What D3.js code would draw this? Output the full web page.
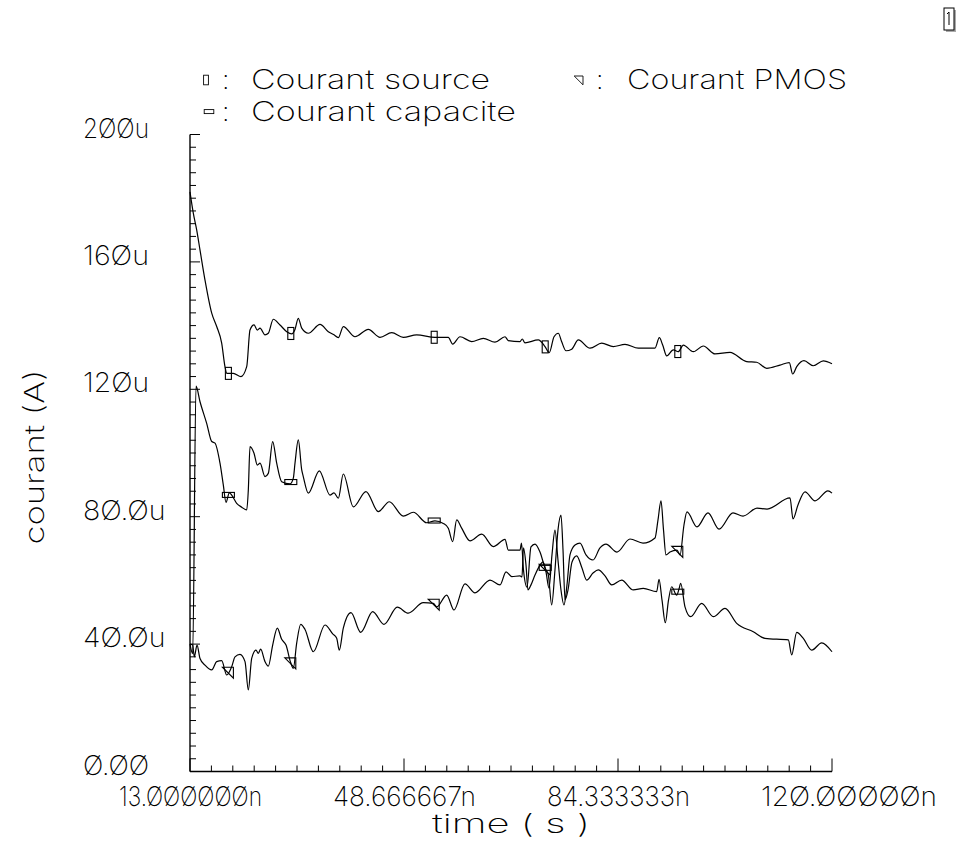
<!DOCTYPE html>
<html>
<head>
<meta charset="utf-8">
<script src="https://cdn.jsdelivr.net/npm/d3@7"></script>
<style>
  html, body { margin: 0; padding: 0; background: #fff; }
  svg { display: block; }
  text { font-family: Inter, Roboto, "DejaVu Sans", sans-serif; font-weight: 200; fill: #000; }
</style>
</head>
<body>
<svg id="chart" width="974" height="841"></svg>
<script>
// ---- Data (time in ns, current in µA) ----
const sourceT = [13.0,13.55,14.12,14.67,15.5,16.62,17.45,18.28,18.83,19.12,20.22,21.5,22.45,23.0,23.67,24.22,24.67,25.5,26.05,26.88,28.0,29.12,29.95,30.5,31.05,31.62,32.72,34.67,36.05,37.0,37.72,38.55,40.5,42.72,44.67,46.62,48.55,50.78,53.83,56.05,56.78,58.0,59.95,61.88,63.83,65.5,66.05,68.0,68.38,68.83,71.05,72.17,72.88,73.67,74.38,74.95,75.67,76.62,77.72,79.67,81.62,83.55,85.5,87.72,90.5,91.22,91.78,92.45,93.55,94.38,95.22,96.88,98.55,100.5,103.0,105.78,107.45,109.12,111.33,112.88,113.45,114.12,115.33,116.88,118.55,120.0];
const sourceV = [182,175.3,170.0,163.7,154.3,143.9,139.7,134.5,127.1,125.0,125.0,124.0,127.1,138.6,140.2,138.6,139.2,137.1,137.6,142.0,140.2,138.1,137.4,138.8,142.3,139.2,137.6,140.4,138.1,137.1,136.2,139.7,136.5,138.8,136.3,137.8,136.3,137.1,136.3,136.3,134.2,136.5,135.0,136.0,134.8,136.5,135.3,135.0,135.8,134.6,135.5,133.4,131.5,136.5,137.6,134.9,132.1,132.6,135.5,132.9,134.5,133.4,134.1,132.9,132.9,136.2,133.9,130.5,132.4,131.8,133.9,131.8,133.6,131.1,131.6,128.7,128.5,126.6,127.6,128.4,124.8,127.1,129.0,127.4,128.9,128.0];

const capT = [13.0,13.45,14.0,14.67,15.78,16.62,17.17,18.0,18.55,19.0,19.55,19.95,20.78,21.62,22.45,22.72,23.0,23.67,24.22,24.67,25.5,26.05,26.78,27.45,28.28,29.67,30.22,30.5,31.05,31.62,31.88,32.72,34.55,36.33,37.0,37.72,38.55,40.22,42.33,44.38,46.22,48.55,50.22,52.45,53.83,55.22,56.05,56.78,57.45,58.28,59.67,61.62,63.55,65.5,66.05,68.0,68.25,68.58,69.17,69.83,70.5,71.33,72.17,72.72,73.28,73.83,74.33,74.83,75.17,75.5,76.0,76.67,77.45,78.33,79.12,80.17,81.05,82.17,83.28,84.95,86.88,88.55,90.78,91.17,91.67,92.22,92.75,93.28,94.12,94.5,94.78,95.5,96.45,98.28,100.22,102.17,104.12,106.88,108.83,112.72,113.28,114.12,115.22,116.62,118.28,120.0];
const capV = [40,37,121,116.1,109.3,103.6,103.1,96.8,90.0,84.5,87.5,86.8,84.2,83.0,82.1,88.4,102.0,99.9,96.2,96.8,92.6,93.6,103.6,96.8,91.0,90.3,92.1,96.8,104.1,94.7,92.6,87.4,94.4,86.8,87.5,85.8,93.4,83.1,87.9,81.6,84.7,80.2,81.4,78.1,78.7,77.9,76.4,72.2,79.0,76.4,72.4,74.5,70.6,72.9,69.5,69.5,71.7,63.3,57.9,70.5,71.4,68.9,63.9,61.7,52.3,63.3,75.8,80.5,69.5,53.9,57.0,65.8,67.7,63.9,60.1,62.3,63.3,61.4,58.6,60.1,57.0,57.5,56.5,60.3,53.8,46.7,53.8,58.0,55.4,57.3,59.1,51.7,48.6,52.8,48.6,51.2,46.5,43.9,41.8,41.3,36.6,43.7,41.8,38.1,40.4,37.6];

const pmosT = [13.0,13.45,13.72,14.17,14.67,15.5,16.62,17.45,18.28,19.12,19.95,20.5,21.33,22.17,22.72,23.28,24.0,24.38,24.78,25.5,26.05,26.78,27.55,28.28,29.0,29.78,30.22,30.78,31.45,32.17,33.55,35.5,36.78,37.45,37.88,38.55,39.83,41.45,43.45,45.33,47.55,49.38,51.88,53.55,54.12,55.78,57.0,58.83,60.5,63.0,64.67,65.67,66.62,68.0,68.33,68.58,69.0,69.33,69.83,70.5,71.33,71.83,72.33,72.83,73.33,73.83,74.33,74.83,75.33,75.83,76.33,77.17,78.0,79.0,80.17,81.33,82.33,84.17,86.33,88.5,90.5,91.0,91.5,91.92,92.33,93.0,94.17,94.67,95.33,95.83,97.5,99.33,101.17,103.5,105.17,107.5,109.17,113.0,113.5,114.33,115.5,117.17,119.33,120.0];
const pmosV = [40,39.7,36.0,39.7,35.5,33.4,31.9,34.5,34.8,30.3,32.9,36.0,36.8,34.5,25.6,35.5,38.1,37.1,38.4,34.5,33.1,39.7,45.0,41.5,39.7,34.2,32.4,40.3,46.2,44.6,37.6,46.0,43.2,41.8,38.1,45.0,49.9,43.7,50.2,46.2,51.6,49.7,53.0,52.8,51.7,55.4,50.7,58.9,56.1,60.1,58.6,62.7,61.2,61.4,61.1,70.2,64.8,57.0,58.6,61.7,64.8,65.8,62.7,57.6,68.0,75.8,66.4,57.0,52.3,58.6,68.0,71.1,71.7,68.0,66.4,70.2,71.4,68.9,73.0,71.7,73.3,79.0,85.0,75.8,68.0,68.9,69.5,68.0,77.4,81.5,76.8,81.2,76.1,81.2,80.2,82.7,82.4,85.9,79.3,83.7,87.8,85.0,88.1,87.4];

const markerTimes = [19.4, 29.8, 53.7, 72.2, 94.3];

const xMajorTicks = [13.0, 48.666667, 84.333333, 120.0];
const xTickLabels = ["13.ØØØØØØn", "48.666667n", "84.333333n", "12Ø.ØØØØØn"];
const yMajorTicks = [0, 40, 80, 120, 160, 200];
const yTickLabels = ["Ø.ØØ", "4Ø.Øu", "8Ø.Øu", "12Øu", "16Øu", "2ØØu"];

const seriesNames = ["Courant source", "Courant PMOS", "Courant capacite"];
const xTitle = "time ( s )";
const yTitle = "courant (A)";

// ---- Layout ----
const svg = d3.select("#chart");
const x = d3.scaleLinear().domain([13, 120]).range([190, 832]);
const y = d3.scaleLinear().domain([0, 200]).range([771.5, 134.5]);

// axes
const ax = svg.append("g").attr("stroke", "#000").attr("stroke-width", 1.4).attr("fill", "none");
ax.append("line").attr("x1", x(13)).attr("x2", x(13)).attr("y1", y(0)).attr("y2", y(200));
ax.append("line").attr("x1", x(13)).attr("x2", x(120)).attr("y1", y(0)).attr("y2", y(0));

const yMinor = d3.range(0, 51).map(i => i * 4);
ax.selectAll(".ym").data(yMinor).join("line")
  .attr("stroke-width", 1)
  .attr("x1", x(13)).attr("x2", d => x(13) + (d % 40 === 0 ? 10 : 6))
  .attr("y1", d => y(d)).attr("y2", d => y(d));

const xMinor = d3.range(0, 31).map(i => 13 + i * 107 / 30);
ax.selectAll(".xm").data(xMinor).join("line")
  .attr("stroke-width", 1)
  .attr("x1", d => x(d)).attr("x2", d => x(d))
  .attr("y1", y(0)).attr("y2", (d, i) => y(0) - (i % 10 === 0 ? 13 : 6));

// tick labels
svg.selectAll(".yl").data(yMajorTicks).join("text")
  .attr("x", 83).attr("y", d => y(d) + 3)
  .attr("font-size", 27)
  .attr("textLength", (d, i) => yTickLabels[i].length * 16.5)
  .attr("lengthAdjust", "spacingAndGlyphs")
  .text((d, i) => yTickLabels[i]);

svg.selectAll(".xl").data(xMajorTicks).join("text")
  .attr("x", d => x(d) - 71).attr("y", 806)
  .attr("font-size", 27)
  .attr("textLength", (d, i) => i === 3 ? 176 : 143)
  .attr("lengthAdjust", "spacingAndGlyphs")
  .text((d, i) => xTickLabels[i]);

svg.append("text").attr("x", 511).attr("y", 833).attr("text-anchor", "middle")
  .attr("font-size", 26).attr("textLength", 158).attr("lengthAdjust", "spacingAndGlyphs")
  .text(xTitle);

svg.append("text").attr("transform", "translate(44,457) rotate(-90)").attr("text-anchor", "middle")
  .attr("font-size", 27).attr("textLength", 175).attr("lengthAdjust", "spacingAndGlyphs")
  .text(yTitle);

// curves
const line = d3.line().x(d => x(d[0])).y(d => y(d[1])).curve(d3.curveMonotoneX);
const series = [
  { T: sourceT, V: sourceV, m: "src" },
  { T: capT, V: capV, m: "cap" },
  { T: pmosT, V: pmosV, m: "pmos" }
];
const g = svg.append("g").attr("fill", "none").attr("stroke", "#000").attr("stroke-width", 1.2);
series.forEach(s => {
  g.append("path").datum(s.T.map((t, i) => [t, s.V[i]])).attr("d", line);
});

function interp(T, V, t) {
  const i = d3.bisectRight(T, t);
  if (i <= 0) return V[0];
  if (i >= T.length) return V[V.length - 1];
  const f = (t - T[i - 1]) / (T[i] - T[i - 1]);
  return V[i - 1] + f * (V[i] - V[i - 1]);
}

function drawMarker(sel, type) {
  if (type === "src") sel.append("rect").attr("x", -3).attr("y", -6).attr("width", 6).attr("height", 12);
  else if (type === "cap") sel.append("rect").attr("x", -6).attr("y", -3).attr("width", 12).attr("height", 5);
  else sel.append("path").attr("d", "M-6,-5L5,-5L5,6Z");
}

const mg = svg.append("g").attr("fill", "none").attr("stroke", "#000").attr("stroke-width", 1.1);
series.forEach(s => {
  markerTimes.forEach(t => {
    const mk = mg.append("g").attr("transform", `translate(${x(t)},${y(interp(s.T, s.V, t))})`);
    drawMarker(mk, s.m);
  });
});

// legend
const leg = [
  { m: "src", mx: 206, my: 80, cx: 222, tx: 251, ty: 89, len: 239, name: seriesNames[0] },
  { m: "pmos", mx: 579, my: 80, cx: 596, tx: 627, ty: 89, len: 220, name: seriesNames[1] },
  { m: "cap", mx: 209, my: 112, cx: 222, tx: 251, ty: 121, len: 265, name: seriesNames[2] }
];
leg.forEach(l => {
  const mk = svg.append("g").attr("fill", "none").attr("stroke", "#000").attr("stroke-width", 1.1)
    .attr("transform", `translate(${l.mx},${l.my}) scale(0.8)`);
  drawMarker(mk, l.m);
  svg.append("text").attr("x", l.cx).attr("y", l.ty).attr("font-size", 27).text(":");
  svg.append("text").attr("x", l.tx).attr("y", l.ty).attr("font-size", 27)
    .attr("textLength", l.len).attr("lengthAdjust", "spacingAndGlyphs").text(l.name);
});

// page number box top right
svg.append("rect").attr("x", 946).attr("y", 10).attr("width", 10).attr("height", 22).attr("fill", "#aaa");
svg.append("rect").attr("x", 944).attr("y", 8).attr("width", 10).attr("height", 22)
  .attr("fill", "#fff").attr("stroke", "#000").attr("stroke-width", 1);
svg.append("line").attr("x1", 949).attr("x2", 949).attr("y1", 12).attr("y2", 25)
  .attr("stroke", "#000").attr("stroke-width", 1);
svg.append("line").attr("x1", 949).attr("x2", 947).attr("y1", 12).attr("y2", 14)
  .attr("stroke", "#000").attr("stroke-width", 1);
</script>
</body>
</html>
